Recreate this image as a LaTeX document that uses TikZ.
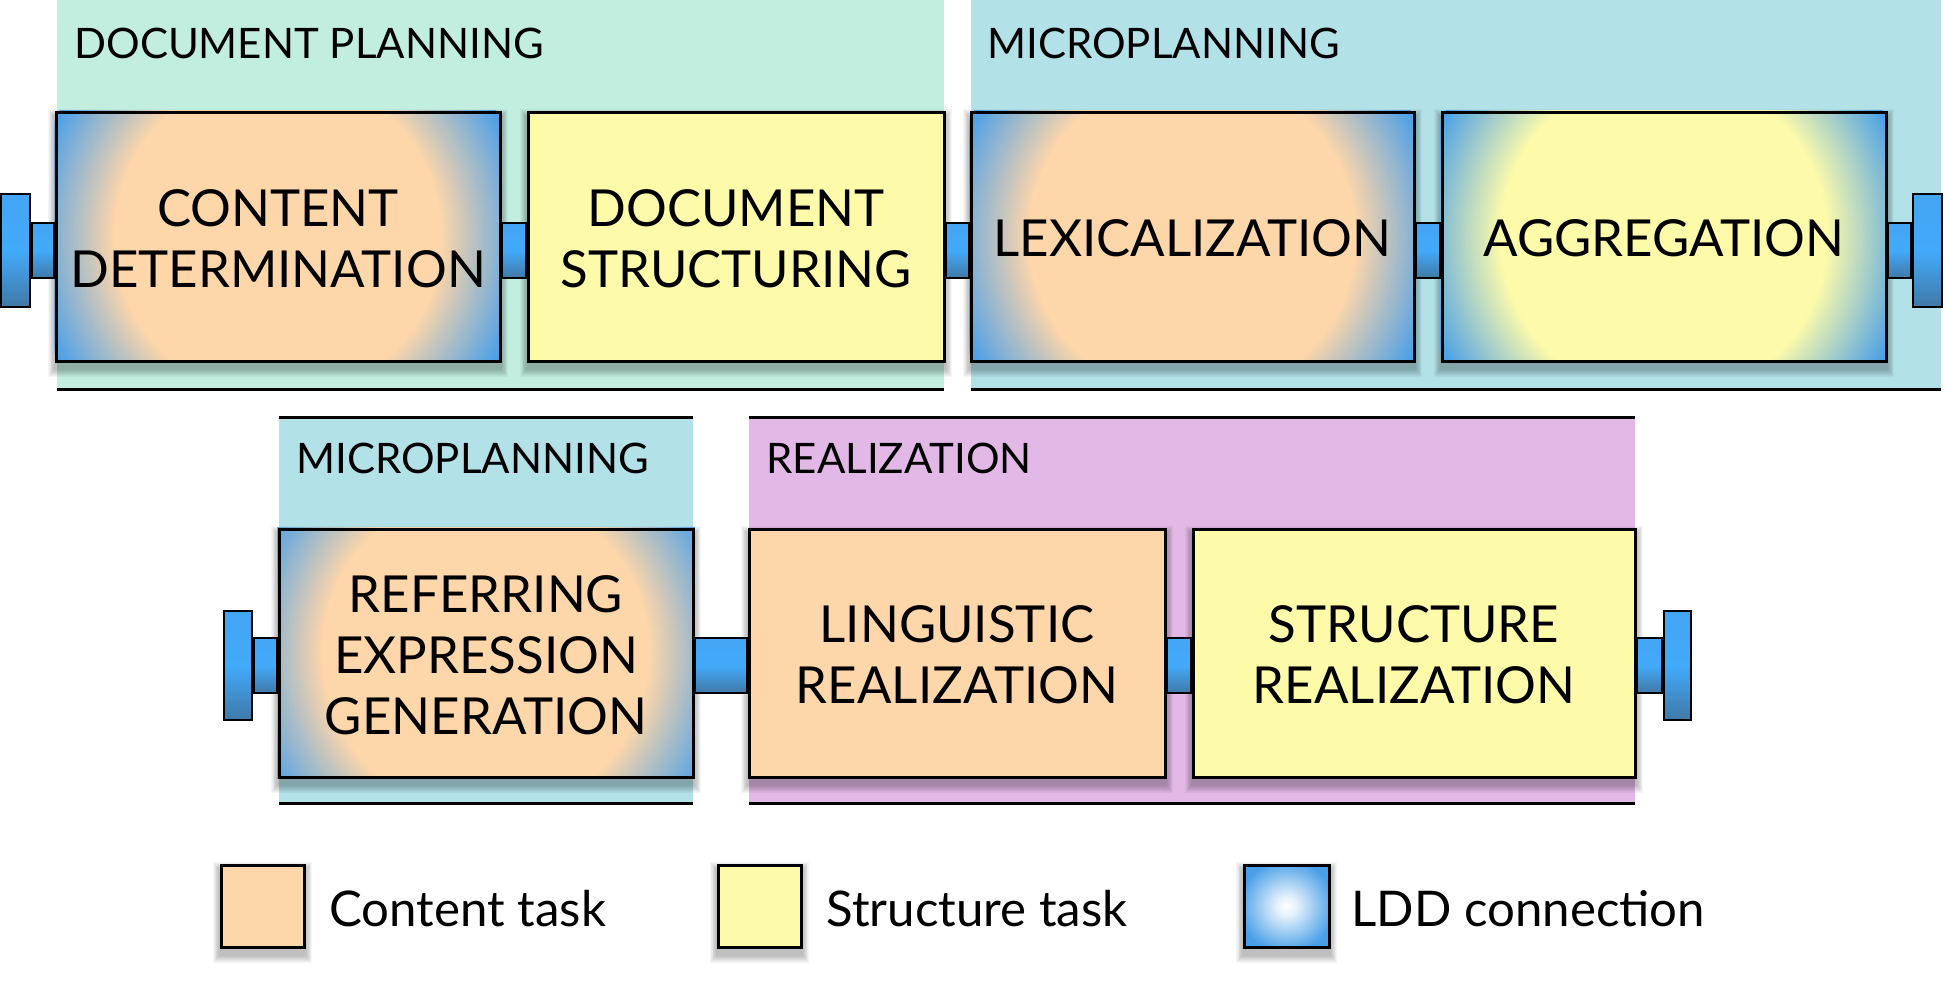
\documentclass[tikz,border=0pt]{standalone}
\usepackage{fontspec}
\setmainfont{Lato}
\usetikzlibrary{fit,calc}
\definecolor{mintband}{RGB}{194,238,224}
\definecolor{blueband}{RGB}{178,225,232}
\definecolor{purpband}{RGB}{226,184,230}
\definecolor{orangec}{RGB}{253,214,170}
\definecolor{yellowc}{RGB}{253,251,170}
\definecolor{cornerblue}{RGB}{74,160,232}
\definecolor{ctop}{RGB}{70,160,236}
\definecolor{cbright}{RGB}{66,170,250}
\definecolor{cdark}{RGB}{64,72,84}
\pgfdeclareradialshading{legldd}{\pgfpointorigin}{color(0bp)=(white); color(6bp)=(white!85!cornerblue); color(28bp)=(cornerblue); color(50bp)=(cornerblue)}
\pgfdeclareverticalshading{connsh}{100bp}{color(0bp)=(cdark); color(50bp)=(cbright); color(100bp)=(ctop)}
\pgfdeclarelayer{bands}
\pgfdeclarelayer{shad}
\pgfdeclarelayer{glowl}
\pgfsetlayers{bands,shad,glowl,main}
\newcommand\softshadow[1]{%
  \begin{pgfonlayer}{shad}
  \foreach \i in {1,...,8}{%
    \fill[black,opacity=0.035] ($(#1.south west)+(-0.8*\i,6+\i)$) rectangle ($(#1.north east)+(0.8*\i,6-\i)$);}
  \end{pgfonlayer}}
\newcommand\lddglow[2]{%
  \begin{pgfonlayer}{glowl}
  \begin{scope}
  \clip (#1.south west) rectangle (#1.north east);
  \fill[cornerblue] (#1.south west) rectangle (#1.north east);
  \foreach \k in {0,...,40}{%
    \pgfmathsetmacro\rr{126-44*\k/40}%
    \pgfmathsetmacro\pp{100*\k/40}%
    \fill[#2!\pp!cornerblue] (#1.center) circle[radius=\rr pt];}
  \end{scope}
  \end{pgfonlayer}}
\tikzset{
  task/.style={draw=black, line width=1.5pt, inner sep=0pt},
  tasktext/.style={inner sep=0pt, align=center, font=\fontsize{25.5}{30.5}\selectfont},
  contentflat/.style={task, fill=orangec},
  structflat/.style={task, fill=yellowc},
  lddbox/.style={task},
  legbox/.style={draw=black, line width=1.5pt, inner sep=0pt},
  flange/.style={draw=black, line width=1.4pt, inner sep=0pt, shade, shading=connsh},
  stub/.style={draw=black, line width=1.4pt, shade, shading=connsh},
  bandline/.style={line width=1.5pt, black},
  bandlabel/.style={anchor=west, inner sep=0pt, font=\fontsize{21}{24}\selectfont},
  legtext/.style={anchor=base west, inner sep=0pt, font=\fontsize{24.6}{30}\selectfont},
}
\begin{document}
\begin{tikzpicture}[x=0.5pt,y=-0.5pt]
\useasboundingbox (0,0) rectangle (1947,980);
% bands
\begin{pgfonlayer}{bands}
\fill[mintband] (57,0) rectangle (944,389);
\fill[blueband] (971,0) rectangle (1941,389);
\fill[blueband] (279,417) rectangle (693,803);
\fill[purpband] (749,417) rectangle (1635,803);
\end{pgfonlayer}
\draw[bandline] (57,389) -- (944,389);
\draw[bandline] (971,389) -- (1941,389);
\draw[bandline] (279,417) -- (693,417);
\draw[bandline] (279,803) -- (693,803);
\draw[bandline] (749,417) -- (1635,417);
\draw[bandline] (749,803) -- (1635,803);
\node[bandlabel] (l1) at (74,43) {DOCUMENT PLANNING};
\node[bandlabel] (l2) at (987,43) {MICROPLANNING};
\node[bandlabel] (l3) at (296,458) {MICROPLANNING};
\node[bandlabel] (l4) at (766,458) {REALIZATION};
% top row boxes
\node[lddbox, fit={(56,112) (500,361)}] (cd) {};
\node[structflat, fit={(528,112) (944,361)}] (ds) {};
\node[lddbox, fit={(971,112) (1414,361)}] (lex) {};
\node[lddbox, fit={(1442,112) (1886,361)}] (agg) {};
% bottom row boxes
\node[lddbox, fit={(279,529) (693,777)}] (reg) {};
\node[contentflat, fit={(749,529) (1165,777)}] (lr) {};
\node[structflat, fit={(1193,529) (1635,777)}] (sr) {};
\lddglow{cd}{orangec}\lddglow{lex}{orangec}\lddglow{agg}{yellowc}\lddglow{reg}{orangec}
\softshadow{cd}\softshadow{ds}\softshadow{lex}\softshadow{agg}
\softshadow{reg}\softshadow{lr}\softshadow{sr}
% box texts
\node[tasktext] (cdt) at ($(cd.center)+(0,2)$) {CONTENT\\DETERMINATION};
\node[tasktext] (dst) at ($(ds.center)+(0,2)$) {DOCUMENT\\STRUCTURING};
\node[tasktext] (lext) at ($(lex.center)+(0,2)$) {LEXICALIZATION};
\node[tasktext] (aggt) at ($(agg.center)+(0,2)$) {AGGREGATION};
\node[tasktext] (regt) at ($(reg.center)+(0,2)$) {REFERRING\\EXPRESSION\\GENERATION};
\node[tasktext] (lrt) at ($(lr.center)+(0,2)$) {LINGUISTIC\\REALIZATION};
\node[tasktext] (srt) at ($(sr.center)+(0,2)$) {STRUCTURE\\REALIZATION};
% flanges
\node[flange, fit={(1,194) (30,307)}] (f1) {};
\node[flange, fit={(1913,194) (1942,307)}] (f2) {};
\node[flange, fit={(224,611) (252,720)}] (f3) {};
\node[flange, fit={(1664,611) (1691,720)}] (f4) {};
% stubs
\path[stub] ($(f1.east)+(0,-27.5)$) rectangle ($(cd.west)+(0,41.5)$);
\path[stub] ($(cd.east)+(0,-13.5)$) rectangle ($(ds.west)+(0,41.5)$);
\path[stub] ($(ds.east)+(0,-13.5)$) rectangle ($(lex.west)+(0,41.5)$);
\path[stub] ($(lex.east)+(0,-13.5)$) rectangle ($(agg.west)+(0,41.5)$);
\path[stub] ($(agg.east)+(0,-13.5)$) rectangle ($(f2.west)+(0,27.5)$);
\path[stub] ($(f3.east)+(0,-27.5)$) rectangle ($(reg.west)+(0,40)$);
\path[stub] ($(reg.east)+(0,-15)$) rectangle ($(lr.west)+(0,40)$);
\path[stub] ($(lr.east)+(0,-15)$) rectangle ($(sr.west)+(0,40)$);
\path[stub] ($(sr.east)+(0,-15)$) rectangle ($(f4.west)+(0,27.5)$);
% legend
\node[legbox, fill=orangec, fit={(221,865) (304,947)}] (k1) {};
\node[legbox, fill=yellowc, fit={(718,865) (801,947)}] (k2) {};
\node[legbox, shade, shading=legldd, fit={(1244,865) (1329,947)}] (k3) {};
\softshadow{k1}\softshadow{k2}\softshadow{k3}
\node[legtext] (t1) at (329,926) {Content task};
\node[legtext] (t2) at (826,926) {Structure task};
\node[legtext] (t3) at (1351,926) {LDD connection};
\end{tikzpicture}
\end{document}
